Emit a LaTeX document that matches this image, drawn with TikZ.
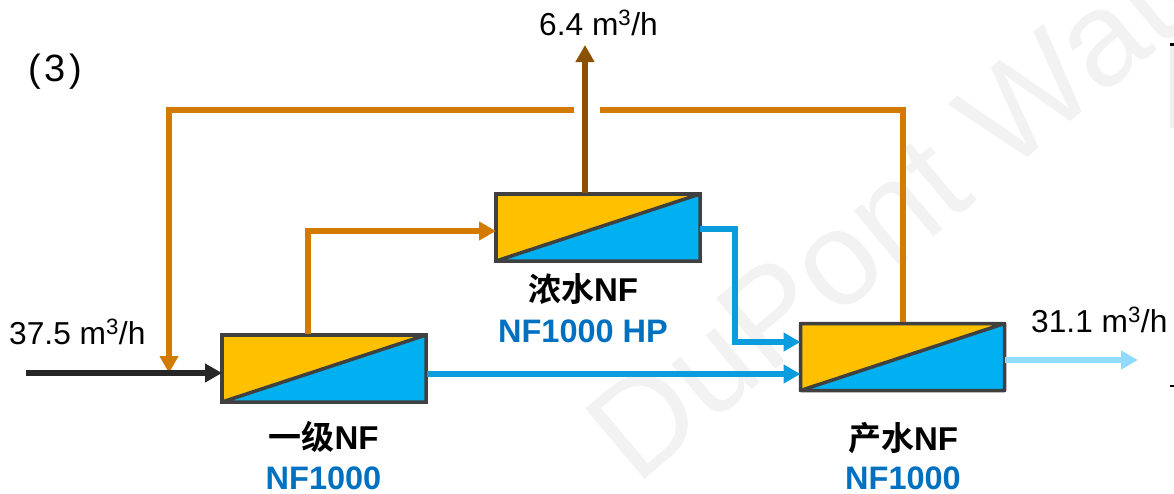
\documentclass[tikz,border=0pt]{standalone}
\usepackage{fontspec}
\setmainfont{Liberation Sans}
\newfontfamily\cjk{Noto Sans CJK SC}[BoldFont={Noto Sans CJK SC Bold}]
\usetikzlibrary{arrows.meta,calc,positioning}
\definecolor{conc}{HTML}{D37B00}
\definecolor{waste}{HTML}{8B5000}
\definecolor{perm}{HTML}{0A9CDD}
\definecolor{prod}{HTML}{8FDCFF}
\definecolor{gold}{HTML}{FFC000}
\definecolor{sky}{HTML}{00B0F0}
\definecolor{edge}{HTML}{404040}
\definecolor{feedc}{HTML}{262626}
\definecolor{tag}{HTML}{0070C0}
\tikzset{
  module/.style={draw=edge, line width=3.5pt, fill=gold, minimum width=204pt, minimum height=67pt, inner sep=0pt, outer sep=0pt},
  pipe/.style={line width=5.5pt, line join=miter},
  flow/.style={pipe, -{Triangle[length=17pt,width=18pt]}},
  rate/.style={font=\fontsize{31.7}{34}\selectfont, inner sep=0pt},
  stage/.style={font=\fontsize{33}{36}\selectfont\bfseries, inner sep=0pt},
  membrane/.style={font=\fontsize{32.5}{36}\selectfont\bfseries, text=tag, inner sep=0pt},
}
\begin{document}
\begin{tikzpicture}[x=1pt, y=-1pt]
\useasboundingbox (0,0) rectangle (1174,493);
\begin{scope}
\clip (0,0) rectangle (1174,493);
\node[rotate=40, text=black!5, font=\fontsize{134}{134}\selectfont, anchor=base west, inner sep=0pt] (mark) at (636,487) {DuPont Water};
\fill[black!6] (1170,45) rectangle (1174,128);
\fill[black] (1170,43) rectangle (1174,46);
\fill[black] (1170,385) rectangle (1174,387);
\end{scope}
% modules
\node[module] (first)  at (324,368.5) {};
\node[module] (conc)   at (598,227.5) {};
\node[module] (perm)   at (902.5,357) {};
\foreach \m in {first,conc,perm}{
  \fill[sky] (\m.south west)--(\m.north east)--(\m.south east)--cycle;
  \draw[edge, line width=3.5pt, line cap=round, line join=round] (\m.south west)--(\m.north east)--(\m.south east)--(\m.south west)--(\m.north west)--(\m.north east);
}
% free ends
\coordinate (feed) at (26,373);
\coordinate (firstin) at (first.west |- feed);
\coordinate (join) at (169,373);
\coordinate (topleft) at (169,110);
\coordinate (gapl) at (574,110);
\coordinate (gapr) at (600,110);
\coordinate (topright) at (903,110);
\coordinate (risebot) at (308,334);
\coordinate (riseel) at (308,231);
\coordinate (concin) at (conc.west |- riseel);
\coordinate (wastetip) at (585,45);
\coordinate (wastebot) at (585,193);
\coordinate (permbot) at (903,322);
\coordinate (concout) at (700,229);
\coordinate (bendtop) at (735,229);
\coordinate (bendbot) at (735,342);
\coordinate (permina) at (perm.west |- bendbot);
\coordinate (firstout) at (427,374);
\coordinate (perminb) at (perm.west |- firstout);
\coordinate (prodout) at (1005,360);
\coordinate (prodtip) at (1138,360);
% connectors
\draw[flow, conc] (gapl)--(topleft)--(join);
\draw[flow, feedc] (feed)--(firstin);
\draw[pipe, conc] (permbot)--(topright)--(gapr);
\draw[flow, conc] (risebot)--(riseel)--(concin);
\draw[flow, waste] (wastebot)--(wastetip);
\draw[flow, perm] (concout)--(bendtop)--(bendbot)--(permina);
\draw[flow, perm] (firstout)--(perminb);
\draw[flow, prod] (prodout)--(prodtip);
% labels
\node[rate, anchor=base west] (ratewaste) at (539,35) {6.4 m\textsuperscript{3}/h};
\node[rate, anchor=base west] (ratefeed)  at (9,344) {37.5 m\textsuperscript{3}/h};
\node[rate, anchor=base west] (rateprod)  at (1031,332) {31.1 m\textsuperscript{3}/h};
\node[anchor=base west, inner sep=0pt, font=\fontsize{38}{40}\selectfont] (caseno) at (28,81) {(\kern4pt 3\kern4pt)};
\node[stage, anchor=base] (namefirst) at (323.5,449) {{\cjk 一级}NF};
\node[stage, anchor=base] (nameconc)  at (583,301) {{\cjk 浓水}NF};
\node[stage, anchor=base] (nameperm)  at (903,450) {{\cjk 产水}NF};
\node[membrane, anchor=base] (typefirst) at (323.5,489) {NF1000};
\node[membrane, anchor=base] (typeconc)  at (583,342) {NF1000 HP};
\node[membrane, anchor=base] (typeperm)  at (903,489) {NF1000};
\end{tikzpicture}
\end{document}
